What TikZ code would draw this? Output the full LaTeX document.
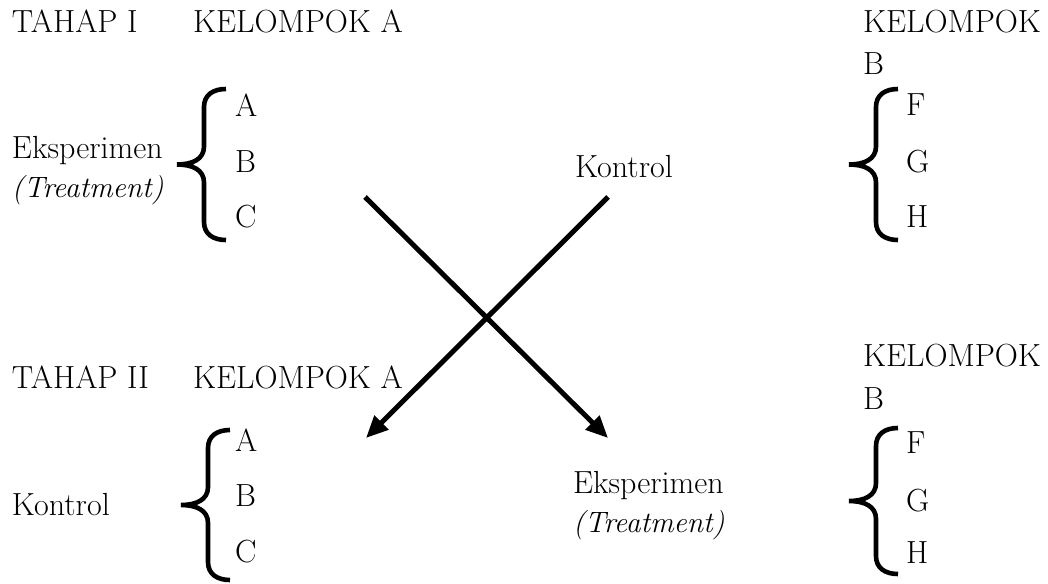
\documentclass[tikz,border=0pt]{standalone}
\usetikzlibrary{arrows.meta}
\tikzset{
  lbl/.style={anchor=base west, inner sep=0pt, outer sep=0pt, font=\fontsize{32}{38}\selectfont},
  ilbl/.style={lbl, font=\fontsize{29.5}{36}\selectfont\itshape},
  bracestyle/.style={line width=4.6pt, line join=miter, line cap=butt},
  crossarrow/.style={line width=5pt, -{Triangle[length=22pt,width=19pt]}}
}
\newcommand\mycurly[3]{% #1 right x, #2 top y, #3 bottom y
  \pgfmathsetmacro\myc{(#2+#3)/2}
  \draw[bracestyle] (#1,#2) .. controls ({#1-13},#2) and ({#1-22},{#2+6}) .. ({#1-22},{#2+18})
    -- ({#1-22},{\myc-18}) .. controls ({#1-22},{\myc-5}) and ({#1-34},\myc) .. ({#1-49},\myc)
    .. controls ({#1-34},\myc) and ({#1-22},{\myc+5}) .. ({#1-22},{\myc+18})
    -- ({#1-22},{#3-18}) .. controls ({#1-22},{#3-6}) and ({#1-13},#3) .. (#1,#3);}
\begin{document}
\begin{tikzpicture}[x=1pt,y=-1pt]
\useasboundingbox (0,0) rectangle (1048,583);
% ---- Tahap I
\node[lbl] (tahap1) at (12,33) {TAHAP I};
\node[lbl] (kelA1) at (193,33) {KELOMPOK A};
\node[lbl] (kelB1) at (863,33) {KELOMPOK};
\node[lbl] (kelB1b) at (863,75) {B};
\node[lbl] (eks1) at (12,158) {Eksperimen};
\node[ilbl] (treat1) at (12,197) {(Treatment)};
\node[lbl] (a1) at (235,117) {A};
\node[lbl] (b1) at (235,172) {B};
\node[lbl] (c1) at (235,227) {C};
\node[lbl] (f1) at (906,115) {F};
\node[lbl] (g1) at (906,172) {G};
\node[lbl] (h1) at (906,227) {H};
\node[lbl] (kon1) at (575,177) {Kontrol};
\mycurly{226}{89}{240}
\mycurly{898}{89}{240}
% ---- Tahap II
\node[lbl] (tahap2) at (12,388) {TAHAP II};
\node[lbl] (kelA2) at (193,388) {KELOMPOK A};
\node[lbl] (kelB2) at (863,366) {KELOMPOK};
\node[lbl] (kelB2b) at (863,409) {B};
\node[lbl] (a2) at (235,451) {A};
\node[lbl] (b2) at (235,506) {B};
\node[lbl] (c2) at (235,562) {C};
\node[lbl] (f2) at (906,453) {F};
\node[lbl] (g2) at (906,511) {G};
\node[lbl] (h2) at (906,563) {H};
\node[lbl] (kon2) at (12,515) {Kontrol};
\node[lbl] (eks2) at (573,493) {Eksperimen};
\node[ilbl] (treat2) at (573,532) {(Treatment)};
\mycurly{230}{430}{580}
\mycurly{898}{428}{574}
% ---- crossing arrows
\coordinate (s1) at (365,197);
\coordinate (e1) at (608,438);
\coordinate (s2) at (608,197);
\coordinate (e2) at (366,438);
\draw[crossarrow] (s1) -- (e1);
\draw[crossarrow] (s2) -- (e2);
\end{tikzpicture}
\end{document}
